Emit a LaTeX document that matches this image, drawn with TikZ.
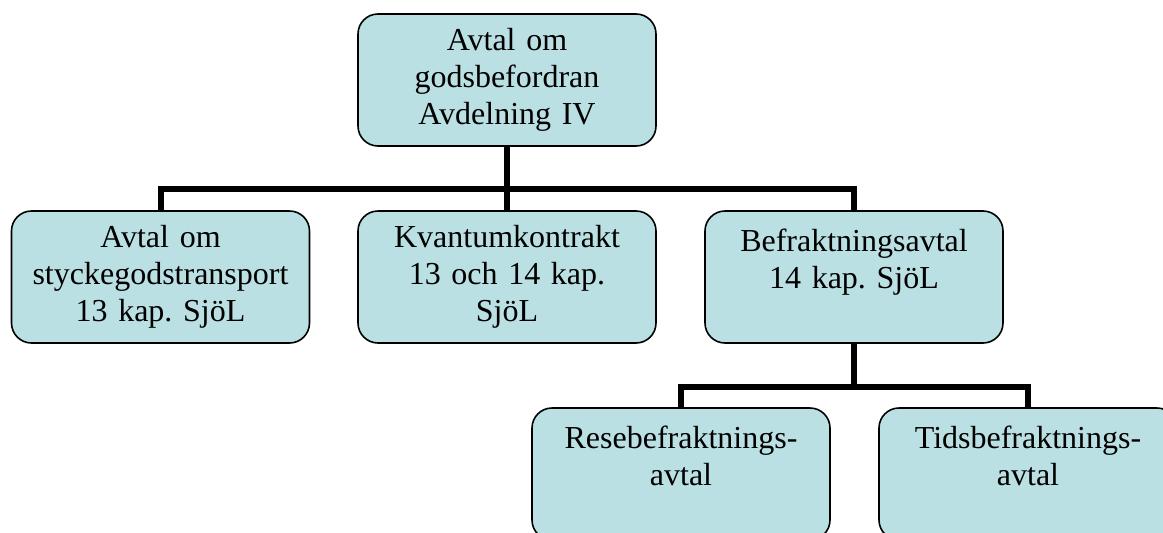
\documentclass[tikz,border=0pt]{standalone}
\usepackage{fontspec}
\setmainfont{Liberation Serif}
\usetikzlibrary{positioning}
\definecolor{orgfill}{RGB}{187,224,227}
\frenchspacing

\begin{document}
\begin{tikzpicture}[x=0.75pt, y=-0.75pt,
		orgbox/.style={draw, line width=1.2pt, fill=orgfill, rounded corners=15pt,
			minimum width=223.5pt, minimum height=99pt, text width=215pt, inner sep=0pt,
			align=center, font=\fontsize{24}{27.7}\selectfont},
		link/.style={line width=4.5pt}]
		\useasboundingbox (0,0) rectangle (1163,532);
		
		% Top level
		\node[orgbox] (avtal) at (507,80) {Avtal om\\godsbefordran\\Avdelning IV};
		
		% Second level
		\node[orgbox] (stycke) at (160.5,277) {Avtal om\\styckegodstransport\\13 kap. SjöL};
		\node[orgbox] (kvantum) at (507,277) {Kvantumkontrakt\\13 och 14 kap.\\SjöL};
		\node[orgbox] (befrakt) at (854,277) {Befraktningsavtal\\14 kap. SjöL\\\mbox{}};
		
		% Third level
		\node[orgbox] (rese) at (681,474) {Resebefraktnings-\\avtal\\\mbox{}};
		\node[orgbox] (tids) at (1028,474) {Tidsbefraktnings-\\avtal\\\mbox{}};
		
		% Connectors
		\coordinate (busA) at (0,189);
		\coordinate (busB) at (0,387);
		\foreach \child in {stycke,kvantum,befrakt}
			\draw[link] (avtal.south) -- (avtal.south |- busA) -| (\child.north);
		\foreach \child in {rese,tids}
			\draw[link] (befrakt.south) -- (befrakt.south |- busB) -| (\child.north);
	\end{tikzpicture}
\end{document}
